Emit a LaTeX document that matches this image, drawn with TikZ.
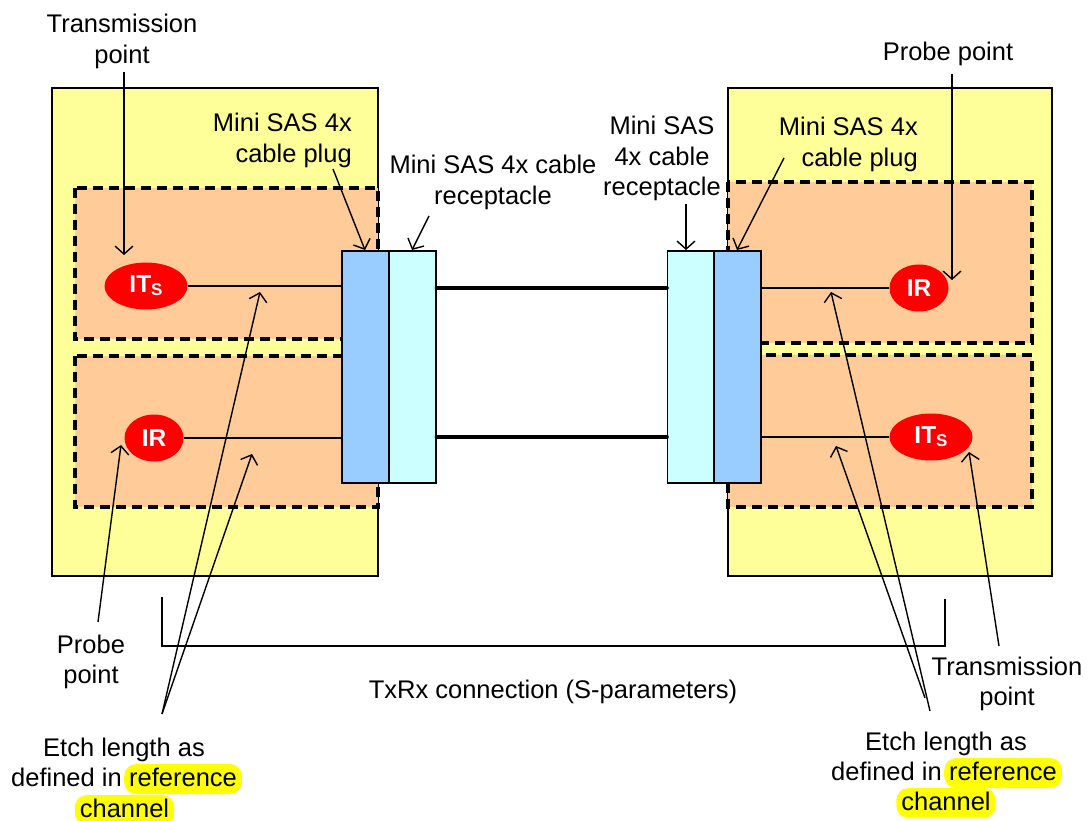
\documentclass[tikz,border=0pt]{standalone}
\usepackage{fontspec}
\setmainfont{Liberation Sans}
\usetikzlibrary{shapes.geometric,arrows.meta,calc}
\definecolor{boardc}{HTML}{FFFF99}
\definecolor{zonec}{HTML}{FFCC99}
\definecolor{plugc}{HTML}{99CCFF}
\definecolor{recc}{HTML}{CCFFFF}
\definecolor{hlc}{HTML}{FFFF00}
\newcommand{\subS}{\raisebox{-3pt}{\fontsize{17}{17}\selectfont S}}
\begin{document}
\begin{tikzpicture}[x=1pt,y=-1pt,
  lbl/.style={inner sep=0pt, font=\fontsize{25.5}{30.5}\selectfont, align=center},
  boardbox/.style={fill=boardc, draw=black, line width=1.8pt},
  zonebox/.style={fill=zonec, draw=black, line width=3.2pt, dash pattern=on 10pt off 6pt},
  plugbox/.style={rectangle, fill=plugc, draw=black, line width=1.8pt, minimum width=47pt, minimum height=232pt, inner sep=0pt},
  recbox/.style={rectangle, fill=recc, draw=black, line width=1.8pt, minimum width=47pt, minimum height=232pt, inner sep=0pt},
  port/.style={ellipse, fill=red, text=white, font=\fontsize{24.5}{24.5}\selectfont\bfseries, inner sep=0pt, minimum height=47pt},
  sig/.style={line width=1.4pt},
  cable/.style={line width=4.5pt, line cap=round},
  ptr/.style={line width=1.4pt, -{Straight Barb[length=8pt,width=18pt,line width=1.4pt]}},
  hl/.style={fill=hlc, rounded corners=12pt, inner xsep=5pt, inner ysep=2pt, text height=20pt, text depth=6pt, font=\fontsize{25.5}{30.5}\selectfont},
]
\fill[white] (0,0) rectangle (1088,821);
\useasboundingbox (0,0) rectangle (1088,821);

% boards
\draw[boardbox] (52,88) rectangle (378,576);
\draw[boardbox] (728,88) rectangle (1052,576);
% zones
\draw[zonebox] (75,188) rectangle (378,339);
\draw[zonebox] (75,356) rectangle (378,507);
\draw[zonebox] (728,182) rectangle (1032,343);
\draw[zonebox] (728,355) rectangle (1032,507);

% connectors
\node[plugbox] (plugL) at (365.5,367) {};
\node[recbox] (recL) at (412.5,367) {};
\node[recbox] (recR) at (691,367) {};
\node[plugbox] (plugR) at (737.5,367) {};

% ports
\node[port, minimum width=83pt] (itsA) at (146,286) {IT\subS};
\node[port, minimum width=59pt] (irA) at (154,438) {IR};
\node[port, minimum width=59pt] (irB) at (919,288) {IR};
\node[port, minimum width=83pt] (itsB) at (931,437) {IT\subS};

% signal lines
\draw[sig] (itsA.east) -- (itsA.east -| plugL.west);
\draw[sig] (irA.east) -- (irA.east -| plugL.west);
\draw[sig] (irB.west) -- (irB.west -| plugR.east);
\draw[sig] (itsB.west) -- (itsB.west -| plugR.east);

% cables
\coordinate (cab1) at (0,288);
\coordinate (cab2) at (0,437);
\draw[cable] (recL.east |- cab1) -- (recR.west |- cab1);
\draw[cable] (recL.east |- cab2) -- (recR.west |- cab2);

% labels
\node[lbl] (tpA) at (122,41.5) {Transmission\\point};
\node[lbl, align=right, anchor=east] (plugA) at (352,140.5) {Mini SAS 4x\\cable plug};
\node[lbl] (recA) at (493,182.5) {Mini SAS 4x cable\\receptacle};
\node[lbl] (recB) at (662,158.5) {Mini SAS\\4x cable\\receptacle};
\node[lbl, align=right, anchor=east] (plugB) at (918,144.5) {Mini SAS 4x\\cable plug};
\node[lbl] (ppB) at (948,53.5) {Probe point};
\node[lbl] (ppA) at (91,662) {Probe\\point};
\node[lbl] (txrx) at (553,692) {TxRx connection (S-parameters)};
\node[lbl] (tpB) at (1007,684) {Transmission\\point};

% etch labels
\node[hl, anchor=base] (etA4) at (124.5,817) {channel};
\node[lbl, anchor=base] (etA1) at (124,756) {Etch length as};
\node[hl, anchor=base west] (etA2) at (124,786) {reference};
\node[lbl, anchor=base east] (etA3) at ([xshift=-2pt]etA2.base west) {defined in};

\node[hl, anchor=base] (etB4) at (946,810) {channel};
\node[lbl, anchor=base] (etB1) at (946,750) {Etch length as};
\node[hl, anchor=base west] (etB2) at (944,780) {reference};
\node[lbl, anchor=base east] (etB3) at ([xshift=-2pt]etB2.base west) {defined in};

% arrow end points
\coordinate (sTpA) at (124,72);   \coordinate (eTpA) at (124,255);
\coordinate (sPlA) at (333,169);  \coordinate (ePlA) at (365,250);
\coordinate (sReA) at (429,216);  \coordinate (eReA) at (412,250);
\coordinate (sReB) at (686,204);  \coordinate (eReB) at (686,250);
\coordinate (sPlB) at (784,158);  \coordinate (ePlB) at (737,250);
\coordinate (sPpB) at (952,74);   \coordinate (ePpB) at (952,280);
\coordinate (sPpA) at (98,622);   \coordinate (ePpA) at (121,445);
\coordinate (sEtA) at (162,714);
\coordinate (eEtA1) at (260,292); \coordinate (eEtA2) at (252,454);
\coordinate (sEtB1) at (930,711); \coordinate (eEtB1) at (831,292);
\coordinate (sEtB2) at (925,698); \coordinate (eEtB2) at (836,446);
\coordinate (sTpB) at (999,646);  \coordinate (eTpB) at (969,452);

\draw[ptr] (sTpA) -- (eTpA);
\draw[ptr] (sPlA) -- (ePlA);
\draw[ptr] (sReA) -- (eReA);
\draw[ptr] (sReB) -- (eReB);
\draw[ptr] (sPlB) -- (ePlB);
\draw[ptr] (sPpB) -- (ePpB);
\draw[ptr] (sPpA) -- (ePpA);
\draw[ptr] (sEtA) -- (eEtA1);
\draw[ptr] (sEtA) -- (eEtA2);
\draw[ptr] (sEtB1) -- (eEtB1);
\draw[ptr] (sEtB2) -- (eEtB2);
\draw[ptr] (sTpB) -- (eTpB);

% TxRx bracket
\draw[sig] (162,597) -- (162,646) -- (945,646) -- (945,599);
\end{tikzpicture}
\end{document}
